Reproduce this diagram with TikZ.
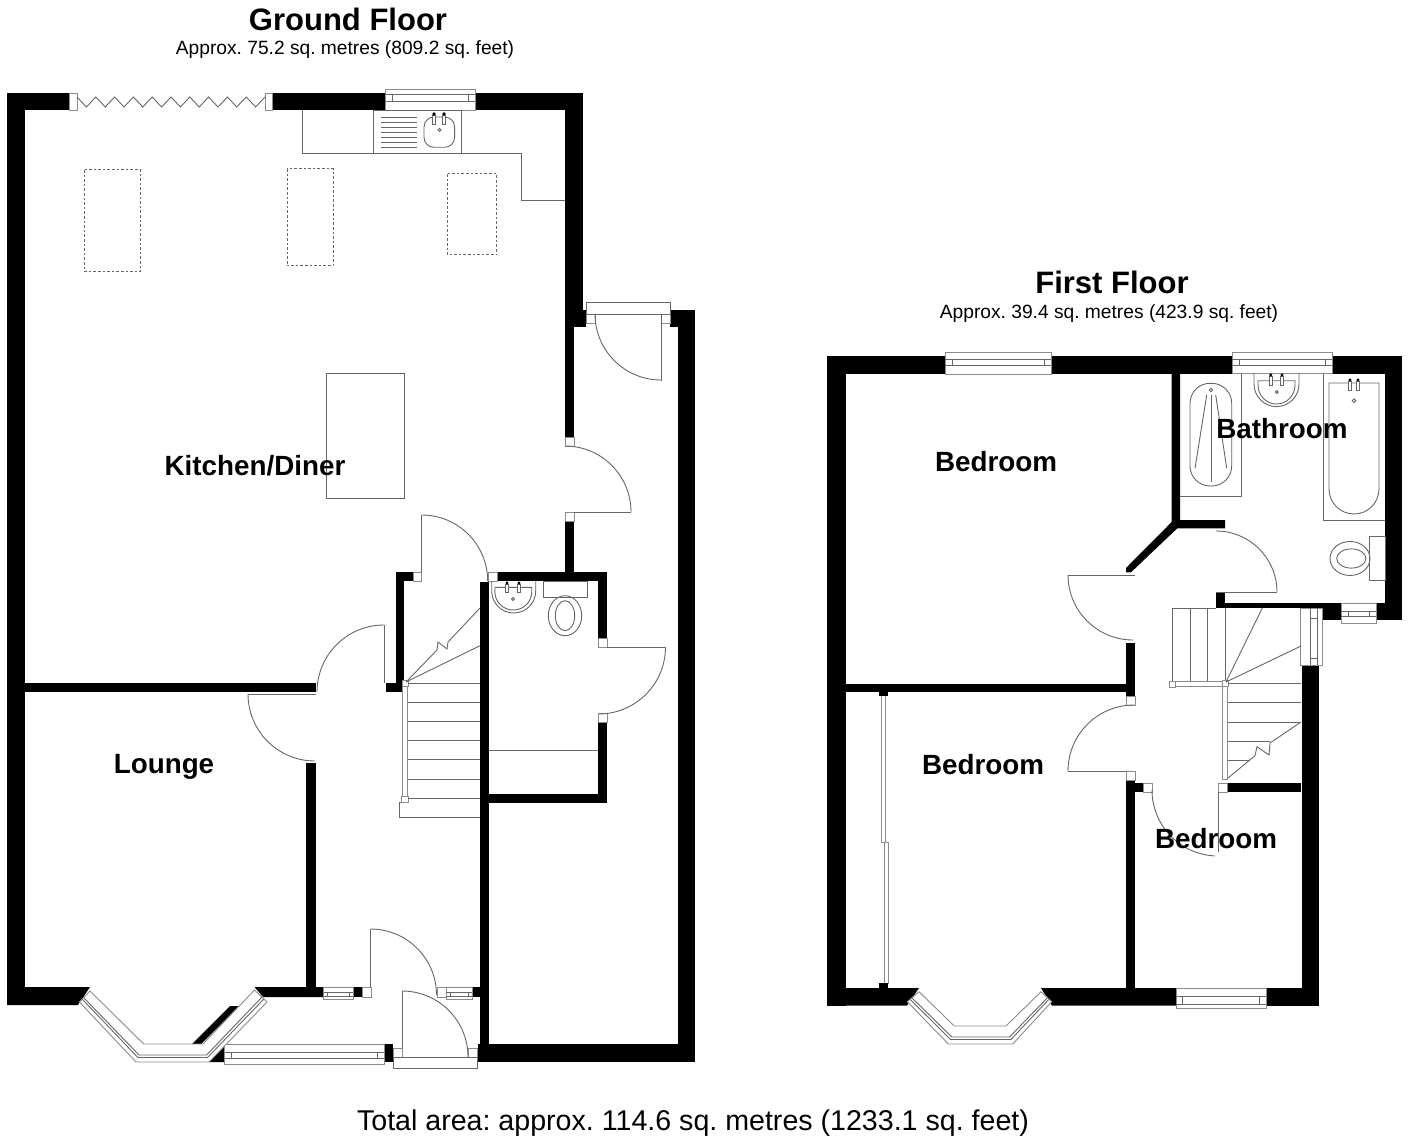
\documentclass[tikz,border=0pt]{standalone}
\usepackage{fontspec}
\setmainfont{Liberation Sans}
\begin{document}
\frenchspacing
\begin{tikzpicture}[x=0.5pt,y=-0.5pt,
	wall/.style={fill=black},
	fitting/.style={draw=black!60,line width=0.45pt},
	post/.style={draw=black!45,line width=0.45pt,fill=white},
	dashedbox/.style={draw=black!60,line width=0.5pt,dash pattern=on 1.3pt off 1pt},
	floortitle/.style={font=\bfseries\fontsize{15.5}{18}\selectfont},
	areatext/.style={font=\fontsize{9.6}{12}\selectfont},
	roomlabel/.style={font=\bfseries\fontsize{13.9}{16}\selectfont}]
	\useasboundingbox (0,0) rectangle (1408,1139);

	\foreach \xa/\ya/\xb/\yb in {7/93/25/1005,7/93/69/110,272.5/93/385.5/110,475/93/583/110,565/93/583/310,565/310/586/327,565/327/574/437,565/521/574/572,480/581.7/489/1062,497/572/607/581,598/572/607/638,598/722/607/803,489/794/607/803,396/572/404.3/692,396/572/413/581,386/683/404.3/692,24/683/316/692,306/763/316/997,678/310/695/1062,670/310/678/327,478/1044/695/1062,353/987/362/997,472/987/481/997,384/1044/393/1062,827/356/846/1005.7,827/356/945/374,1051/356/1232/374,1332/356/1402/373.5,1385/356/1402/620,1376/603/1402/620,1300/603/1341/620,1216/603/1300/608.3,1216/593/1225/608.3,1302/665/1319.3/1005.7,846/684/1126/692,1126/643/1135/696,1126/780/1135/988,1135/783/1143/792,1227/783/1301/792,1266/988/1319.3/1005.7}
		\fill[wall] (\xa,\ya) rectangle (\xb,\yb);
	\fill[wall] (7,987) -- (90,987) -- (78,1005) -- (7,1005) -- cycle;
	\fill[wall] (254.5,987) -- (324,987) -- (324,997) -- (263,997) -- cycle;
	\fill[wall] (192,1044) -- (230,1006) -- (239,1006) -- (201,1044) -- cycle;
	\fill[wall] (209,1062) -- (224.6,1044) -- (224.6,1062) -- cycle;
	\fill[wall] (827,988) -- (919,988) -- (907,1005.7) -- (827,1005.7) -- cycle;
	\fill[wall] (1041,988) -- (1176,988) -- (1176,1005.7) -- (1052,1005.7) -- cycle;
	\fill[wall] (1171.7,373) -- (1180,373) -- (1180,520) -- (1225,520) -- (1225,528.3) -- (1177.3,528.3) -- (1131,572.3) -- (1126,572.3) -- (1126,568) -- (1171.7,522) -- cycle;

	\foreach \xa/\ya/\xb/\yb in {69/93/77/110,265/93/272.5/110,586/314/595/323,661/314/670/323,565/437/574/446,565/512/574/521,413/572/421.7/581,488/572/497/581,598/638/607/647,598/713/607/722,362/987/371/997,437/987/446/997,393/1048/402/1057,468.7/1048/477/1057,1126/696/1135/705,1126/771/1135/780,1143/783/1152/792,1218/783/1227/792}
		\draw[post] (\xa,\ya) rectangle (\xb,\yb);

	\foreach \xa/\xb/\ya/\yb/\yc/\yd/\inset in {385.5/475/89.3/110/94.3/101.5/7,323.6/353/987/999.3/992/996/4,446/472/987/999.3/992/996/4,224.6/384/1044/1064/1052.7/1058.7/6.5,945/1051/352.7/374/359/365/7,1232/1332/352.7/373.5/359/365/7,1176/1266/988/1008.3/996.7/1004/6.5,1341/1376/603/623.3/611.7/616.7/7}{
		\draw[post] (\xa,\ya) rectangle (\xb,\yb);
		\draw[fitting] (\xa,\yc) -- (\xb,\yc) (\xa,\yd) -- (\xb,\yd);
		\draw[fitting] ({\xa+\inset},\yc) rectangle ({\xb-\inset},\yd);
	}
	\draw[post] (1300.7,608.3) rectangle (1322,665);
	\draw[fitting] (1310,608.3) -- (1310,665) (1317.7,608.3) -- (1317.7,665);
	\draw[fitting] (1310,618) rectangle (1317.7,658);

	\draw[post] (79.5,1002) -- (136,1062) -- (209,1062) -- (267,1002) -- (254.5,990) -- (203,1044) -- (143.7,1044) -- (90,991) -- cycle;
	\draw[fitting] (83.7,997.6) -- (139,1055) -- (206.6,1055) -- (262,997);
	\draw[fitting] (82.1,999) -- (137.9,1057.5) -- (207.5,1057.5) -- (263.9,999);
	\draw[post] (907.3,1001.7) -- (948.3,1044) -- (1012.7,1044) -- (1051.7,1001.7) -- (1041,991.7) -- (1006,1026) -- (954.3,1026) -- (919,991.7) -- cycle;
	\draw[fitting] (912,998) -- (951.9,1037) -- (1009.5,1037) -- (1047.2,998);
	\draw[fitting] (910,999.2) -- (950.5,1039.5) -- (1010.9,1039.5) -- (1049,999.2);

	\draw[fitting] (77,97) \foreach \i in {0,...,9} { -- ({86.4+18.8*\i},107) -- ({95.8+18.8*\i},97)};

	\draw[fitting] (302,110) -- (302,153.7) -- (521,153.7) -- (521,200) -- (565,200);
	\draw[fitting] (373,110) rectangle (461,153.7);
	\foreach \y in {117,122,127,132,137,142,147}
		\draw[fitting] (381,\y) -- (417,\y);
	\draw[fitting,rounded corners=5pt] (424,117) rectangle (454.6,147.3);
	\foreach \x in {434,444}
		\draw[fitting,fill=white] (\x-1.5,115) rectangle (\x+1.5,124);
	\fill (434,114) circle (0.9pt) (444,114) circle (0.9pt);
	\draw[fitting] (439.5,130) circle (0.7pt);

	\draw[dashedbox] (84.6,170) rectangle (140.5,271.7);
	\draw[dashedbox] (287,169) rectangle (333,266);
	\draw[dashedbox] (447.8,174) rectangle (496.8,255);
	\draw[fitting] (326,373) rectangle (404,498);

	\draw[fitting] (586,302) rectangle (670,314);
	\draw[fitting] (661,314) -- (661,380.7);
	\draw[fitting] (595,314) arc (180:270:33pt);
	\draw[fitting] (574,512) -- (631,512);
	\draw[fitting] (631,512) arc (0:90:33pt);
	\draw[fitting] (421.7,572) -- (421.7,515);
	\draw[fitting] (421.7,515) arc (90:0:33pt);
	\draw[fitting] (384,683) -- (384,625);
	\draw[fitting] (384,625) arc (90:180:33.5pt);
	\draw[fitting] (248,694) -- (316,694);
	\draw[fitting] (248,694) arc (180:270:33.5pt);
	\draw[fitting] (607,647) -- (665.5,647);
	\draw[fitting] (665.5,647) arc (0:-90:33.5pt);
	\draw[fitting] (370.5,987) -- (370.5,929);
	\draw[fitting] (370.5,929) arc (90:0:33pt);
	\draw[fitting] (402,1048) -- (402,991);
	\draw[fitting] (402,991) arc (90:0:33pt);
	\draw[fitting] (393,1057) rectangle (477,1068.7);

	\draw[fitting] (489,750) -- (598,750);
	\draw[fitting] (491.7,581) -- (491.7,591) arc (180:360:11pt and 11pt) -- (535.7,581);
	\draw[fitting] (495,587.3) -- (531.7,587.3) -- (531.7,592) arc (0:-180:9.2pt and 9pt) -- cycle;
	\foreach \x in {507,519}
		\draw[fitting,fill=white] (\x-1.5,584) rectangle (\x+1.5,592);
	\fill (507,583) circle (0.8pt) (519,583) circle (0.8pt);
	\draw[fitting] (513,599) circle (0.7pt);
	\draw[fitting] (543,581) rectangle (587,597);
	\draw[fitting] (565,615.7) ellipse (8.35pt and 10pt);
	\draw[fitting] (565,615.7) ellipse (4.85pt and 7.5pt);

	\draw[post] (402,683) rectangle (407.7,799);
	\draw[post] (402,680) rectangle (408,686);
	\draw[post] (401,796) rectangle (408,802);
	\foreach \y in {683,702,721,740,759,779,798}
		\draw[fitting] (408,\y) -- (480,\y);
	\draw[fitting] (401,802) -- (399,802) -- (399,817) -- (480,817);
	\draw[fitting] (406,682) -- (480,645.7);
	\draw[fitting] (406,682) -- (437,650) -- (438,642) -- (447,649) -- (448,642) -- (480,608);

	\draw[fitting] (1068,575) -- (1135,575);
	\draw[fitting] (1068,575) arc (180:270:32.5pt);
	\draw[fitting] (1216,592) -- (1277,592);
	\draw[fitting] (1277,592) arc (0:90:30.5pt);
	\draw[fitting] (1068,771) -- (1126,771);
	\draw[fitting] (1134,705) arc (90:180:33pt);
	\draw[fitting] (1218,792) -- (1218,852);
	\draw[fitting] (1152,790) arc (180:267:33pt);

	\draw[fitting] (1172,608.3) -- (1216,608.3);
	\draw[fitting] (1172,608) -- (1172,681);
	\draw[fitting] (1190,608) -- (1190,681);
	\draw[fitting] (1207.7,608) -- (1207.7,681);
	\draw[fitting] (1225,608) -- (1225,681);
	\draw[post] (1172,681) rectangle (1225,686);
	\draw[post] (1169,681) rectangle (1175,687);
	\draw[post] (1222,680) rectangle (1228,686);
	\draw[post] (1222,686) rectangle (1227.7,779);
	\foreach \y in {683.7,702.7,722}
		\draw[fitting] (1228,\y) -- (1301,\y);
	\draw[fitting] (1228,741.3) -- (1270,741.3);
	\draw[fitting] (1228,760) -- (1250,760);
	\draw[fitting] (1226,682) -- (1262.3,608);
	\draw[fitting] (1226,682) -- (1301,646);
	\draw[fitting] (1301,722) -- (1270,743) -- (1269,755) -- (1257,746.7) -- (1255,755.7) -- (1228,778);

	\draw[fitting] (1180,496) -- (1241.7,496) -- (1241.7,373);
	\draw[fitting,rounded corners=10pt] (1190,383.3) rectangle (1231.7,486);
	\draw[fitting] (1211,390) circle (0.9pt);
	\draw[fitting] (1211,395) -- (1211,481.7);
	\draw[fitting] (1206.7,395) -- (1195,468.3);
	\draw[fitting] (1215.7,395) -- (1226.7,468.3);
	\draw[fitting] (1254,373) -- (1254,384) arc (180:360:11.25pt and 11.3pt) -- (1299,373);
	\draw[fitting] (1258,380.7) -- (1295,380.7) -- (1295,385) arc (0:-180:9.25pt and 9.5pt) -- cycle;
	\foreach \x in {1270.7,1282}
		\draw[fitting,fill=white] (\x-1.5,376) rectangle (\x+1.5,385);
	\fill (1270.7,375) circle (0.8pt) (1282,375) circle (0.8pt);
	\draw[fitting] (1276.7,392) circle (0.7pt);
	\draw[fitting] (1323,373) -- (1323,520) -- (1385,520);
	\draw[fitting] (1329,383) -- (1379,383) -- (1379,489) arc (0:-180:12.5pt) -- cycle;
	\foreach \x in {1350,1358}
		\draw[fitting,fill=white] (\x-1.5,381) rectangle (\x+1.5,390);
	\fill (1350,380) circle (0.8pt) (1358,380) circle (0.8pt);
	\draw[fitting] (1354,400.7) circle (0.9pt);
	\draw[fitting] (1369,536.7) rectangle (1385,580);
	\draw[fitting] (1350,558.5) ellipse (10pt and 8.5pt);
	\draw[fitting] (1351.3,558.5) ellipse (7.3pt and 4.8pt);

	\draw[post] (881.5,692) rectangle (885,842);
	\draw[post] (884,842) rectangle (888,983);
	\fill[wall] (879,982.7) rectangle (888,988);
	\fill[wall] (879,692) rectangle (888,696);

	\node[floortitle] (groundtitle) at (348,19) {Ground Floor};
	\node[areatext] (groundarea) at (345,50) {Approx. 75.2 sq. metres (809.2 sq. feet)};
	\node[floortitle] (firsttitle) at (1112,282) {First Floor};
	\node[areatext] (firstarea) at (1109,314) {Approx. 39.4 sq. metres (423.9 sq. feet)};
	\node[roomlabel] (kitchen) at (255,466) {Kitchen/Diner};
	\node[roomlabel] (lounge) at (164,767) {Lounge};
	\node[roomlabel] (bedrooma) at (996,462) {Bedroom};
	\node[roomlabel] (bathroom) at (1282,429) {Bathroom};
	\node[roomlabel] (bedroomb) at (983,765) {Bedroom};
	\node[roomlabel] (bedroomc) at (1216,839) {Bedroom};
	\node[font=\fontsize{14.3}{17}\selectfont] (total) at (693,1123) {Total area: approx. 114.6 sq. metres (1233.1 sq. feet)};
\end{tikzpicture}
\end{document}
